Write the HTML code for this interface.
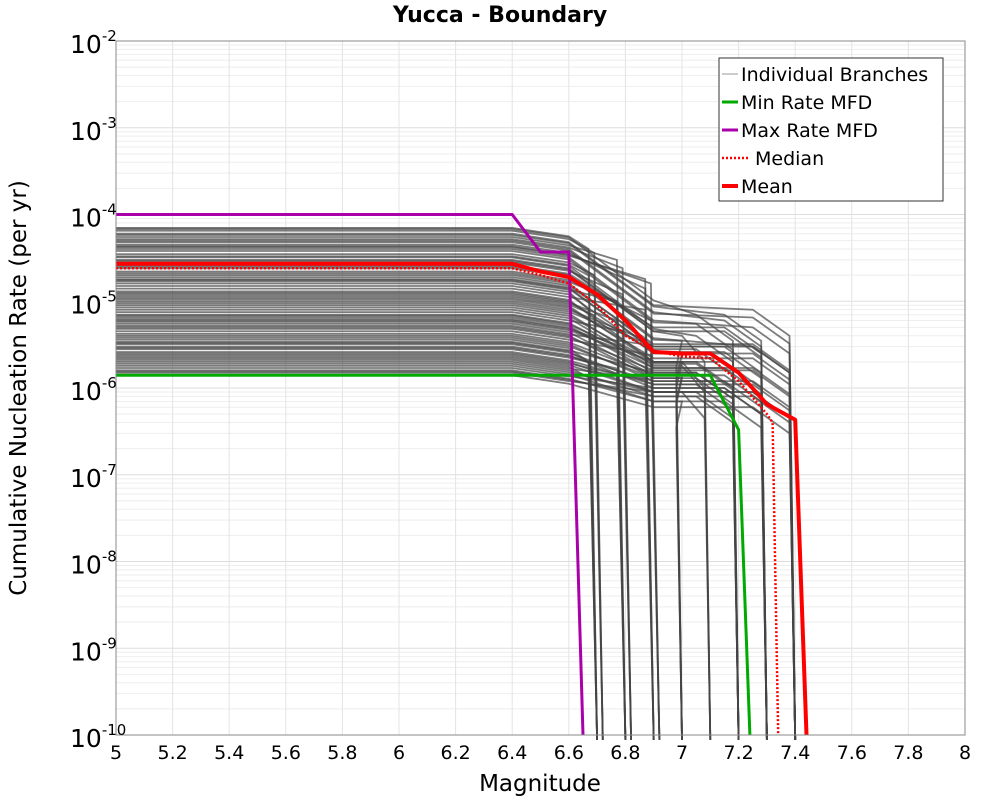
<!DOCTYPE html>
<html><head><meta charset="utf-8"><style>
body{margin:0;background:#fff;font-family:"Liberation Sans","DejaVu Sans",sans-serif}
svg text{font-family:"DejaVu Sans","Liberation Sans",sans-serif}
</style></head><body>
<svg id="c" width="1000" height="800" viewBox="0 0 1000 800">
<text x="500" y="22" text-anchor="middle" font-size="22" font-weight="bold">Yucca - Boundary</text>
<g id="grid"></g>
<g id="branches"></g>
<g id="main"></g>
<rect x="116" y="41" width="849" height="694" fill="none" stroke="#888" stroke-width="1"/>
<g id="axes"></g>
<text x="540" y="791" text-anchor="middle" font-size="23">Magnitude</text>
<text transform="translate(26,388) rotate(-90)" text-anchor="middle" font-size="23">Cumulative Nucleation Rate (per yr)</text>
<g>
<rect x="719" y="58" width="224" height="143" fill="#fff" stroke="#333" stroke-width="1"/>
<g><line x1="722" y1="74" x2="738" y2="74" stroke="#999" stroke-width="1"/><text x="741" y="81" font-size="19">Individual Branches</text></g>
<g><line x1="722" y1="102" x2="738" y2="102" stroke="#00aa00" stroke-width="3"/><text x="741" y="109" font-size="19">Min Rate MFD</text></g>
<g><line x1="722" y1="130" x2="738" y2="130" stroke="#aa00aa" stroke-width="3"/><text x="741" y="137" font-size="19">Max Rate MFD</text></g>
<g><line x1="722" y1="158" x2="750" y2="158" stroke="#f00" stroke-width="2.5" stroke-dasharray="2,2"/><text x="755" y="165" font-size="19">Median</text></g>
<g><line x1="722" y1="186" x2="738" y2="186" stroke="#f00" stroke-width="4"/><text x="741" y="193" font-size="19">Mean</text></g>
</g>
</svg>
<script>
const xTicks=[5,5.2,5.4,5.6,5.8,6,6.2,6.4,6.6,6.8,7,7.2,7.4,7.6,7.8,8];
const yExps=[-2,-3,-4,-5,-6,-7,-8,-9,-10];
const meanM=[5,6.4,6.5,6.6,6.7,6.8,6.9,7.0,7.1,7.2,7.3,7.4,7.44];
const meanR=[2.7e-5,2.7e-5,2.2e-5,1.9e-5,1.2e-5,6e-6,2.6e-6,2.5e-6,2.5e-6,1.5e-6,6.5e-7,4.3e-7,1e-10];
const medM=[5,6.4,6.5,6.6,6.7,6.8,6.9,7.0,7.1,7.2,7.3,7.32,7.34];
const medR=[2.4e-5,2.4e-5,2.0e-5,1.6e-5,9e-6,4e-6,2.7e-6,2.3e-6,2.2e-6,1.2e-6,5e-7,4e-7,1e-10];
const minM=[5,7.1,7.2,7.24];
const minR=[1.4e-6,1.4e-6,3.3e-7,1e-10];
const maxM=[5,6.4,6.5,6.6,6.65];
const maxR=[1e-4,1e-4,3.7e-5,3.7e-5,1e-10];
const brLevel=[7e-5,6e-5,5.5e-5,5e-5,4.5e-5,4e-5,3.5e-5,3.2e-5,3e-5,2.8e-5,2.5e-5,2.2e-5,2e-5,1.8e-5,1.6e-5,1.5e-5,1.3e-5,1.2e-5,1.1e-5,1e-5,9e-6,8e-6,7e-6,6.5e-6,6e-6,5.5e-6,5e-6,4.5e-6,4e-6,3.6e-6,3.2e-6,3e-6,2.8e-6,2.5e-6,2.3e-6,2.1e-6,2e-6,1.8e-6,1.6e-6,1.4e-6,6.8e-5,4.2e-5,2.6e-5,1.7e-5,9.5e-6,5.8e-6,3.4e-6,2.2e-6,1.7e-6,1.5e-6,
6.5e-5,5.8e-5,5.2e-5,4.8e-5,4.3e-5,3.8e-5,3.3e-5,2.9e-5,2.4e-5,2.1e-5,1.9e-5,1.75e-5,1.4e-5,1.25e-5,1.15e-5,1.05e-5,8.5e-6,7.5e-6,6.8e-6,6.2e-6,5.2e-6,4.8e-6,4.2e-6,3.8e-6,3.3e-6,2.9e-6,2.6e-6,2.4e-6,1.9e-6,1.55e-6];
const brCut=[6.7,7.4,6.8,7.3,6.9,7.4,6.72,7.2,7.1,6.82,7.4,6.92,7.3,7.0,6.7,7.4,7.2,6.8,7.3,6.9,7.1,7.4,6.72,7.2,6.82,7.3,7.0,6.92,7.4,6.7,7.2,7.3,6.8,7.1,7.4,6.9,7.2,7.0,7.3,7.4,7.2,6.9,7.3,6.8,7.4,7.0,7.2,6.7,7.3,7.4,
6.72,7.3,6.82,7.4,6.92,7.2,6.7,7.3,7.0,6.8,7.4,7.2,6.9,7.3,6.72,7.4,7.1,6.82,7.2,7.3,6.92,7.4,7.0,7.2,6.7,7.3,7.4,6.8,7.2,7.4];
const brPlateau=[2e-5,8e-6,1.5e-5,6e-6,7e-6,5e-6,1e-5,4e-6,4e-6,6e-6,3e-6,3e-6,3e-6,2.5e-6,4e-6,2.5e-6,2e-6,3e-6,2e-6,1.8e-6,1.8e-6,1.7e-6,2e-6,1.5e-6,1.5e-6,1.4e-6,1.3e-6,1.2e-6,1.2e-6,1e-6,1.1e-6,1e-6,1e-6,9e-7,9e-7,8e-7,8e-7,7e-7,7e-7,6e-7,7e-6,9e-6,5e-6,5e-6,3e-6,2e-6,1.5e-6,1e-6,1e-6,9e-7,
1.8e-5,7e-6,1.2e-5,6.5e-6,8e-6,5.5e-6,1.2e-5,4.5e-6,3.5e-6,5e-6,3.2e-6,2.8e-6,4e-6,2.6e-6,5e-6,2.2e-6,2e-6,2.5e-6,1.9e-6,1.7e-6,2e-6,1.6e-6,1.4e-6,1.3e-6,2e-6,1.2e-6,1.1e-6,1.2e-6,9e-7,8e-7];
const X0=116,X1=965,Y0=41,Y1=735;
const sx=m=>X0+(m-5)/3*(X1-X0);
const sy=r=>Y0+(-2-Math.log10(r))/8*(Y1-Y0);
const NS='http://www.w3.org/2000/svg';
function mk(tag,attrs,parent){const e=document.createElementNS(NS,tag);for(const k in attrs)e.setAttribute(k,attrs[k]);parent.appendChild(e);return e;}
const grid=document.getElementById('grid'),axes=document.getElementById('axes');
for(const e of yExps){for(let k=1;k<10;k++){const r=k*Math.pow(10,e-1);if(e-1<-10)break;const y=sy(r);if(y<Y0||y>Y1)continue;
const l=mk('line',{x1:X0,x2:X1,y1:y,y2:y,stroke:k==1?'#ddd':'#eee','stroke-width':1},grid);

}}
for(const t of xTicks){const x=sx(t);
const l=mk('line',{x1:x,x2:x,y1:Y0,y2:Y1,stroke:'#e4e4e4','stroke-width':1},grid);


const tx=mk('text',{x:x,y:759,'text-anchor':'middle','font-size':19},axes);tx.textContent=String(t);

}
for(const e of yExps){const y=sy(Math.pow(10,e));
const tx=mk('text',{x:70,y:y+12,'font-size':25},axes);


tx.innerHTML='10<tspan dy="-12" font-size="15">'+e+'</tspan>';}
const br=document.getElementById('branches');
function path(ms,rs){return ms.map((m,i)=>(i?'L':'M')+sx(m).toFixed(1)+','+Math.min(sy(rs[i]),Y1+5).toFixed(1)).join(' ');}
for(let i=0;i<brLevel.length;i++){const L=brLevel[i],c=brCut[i],P=brPlateau[i];let ms,rs;
if(c<6.95){ms=[5,6.4,6.6,c-0.03,c];rs=[L,L,L*0.8,Math.min(L*0.6,P*2),1e-11];}
else{ms=[5,6.4,6.6,6.9,Math.max(7.0,c-0.15),c-0.02,c];rs=[L,L,L*0.8,Math.max(P,L*0.15),P,P*0.5,1e-11];}
for(let j=1;j<rs.length;j++)if(rs[j]>rs[j-1])rs[j]=rs[j-1];
const p=mk('path',{d:path(ms,rs),fill:'none',stroke:'#444','stroke-opacity':0.7,'stroke-width':1.8},br);

}
const main=document.getElementById('main');
function line(ms,rs,col,w,dash,name){const p=mk('path',{d:path(ms,rs),fill:'none',stroke:col,'stroke-width':w,'stroke-linejoin':'round'},main);if(dash)p.setAttribute('stroke-dasharray',dash);

}
line(minM,minR,'#00aa00',3,null,'min-rate-line');
line(maxM,maxR,'#aa00aa',3,null,'max-rate-line');
line(medM,medR,'#f00',2.5,'2,2','median-line');
line(meanM,meanR,'#f00',4,null,'mean-line');
</script>
</body></html>
